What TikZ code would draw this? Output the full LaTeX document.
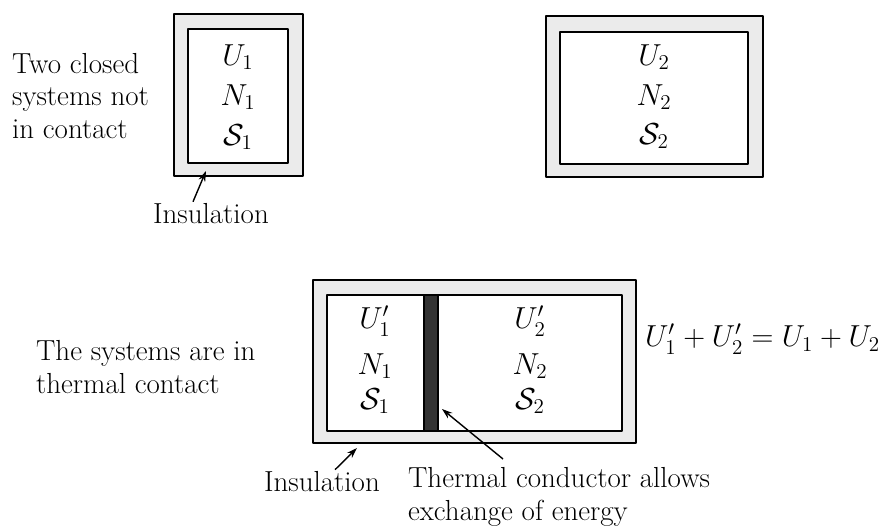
\documentclass[tikz,border=0pt]{standalone}
\usepackage{amsmath,amssymb}
\usepackage{xcolor}
\usepackage{tikz}
\usetikzlibrary{arrows.meta,calc}

\begin{document}
\begin{tikzpicture}[x=0.02cm,y=-0.02cm,>={Stealth[length=6pt,width=4pt]},line join=round,
  font=\fontsize{16.5}{18.7}\selectfont,
  wall/.style={line width=1.2pt},
  insul/.style={fill=black!8},
  cond/.style={fill=black!80,line width=1.2pt},
  lbl/.style={inner sep=1pt,align=left}]
  \useasboundingbox (0,0) rectangle (889,528);
  % two closed systems
  \fill[insul] (174,14) rectangle (303,176);
  \draw[wall] (174,14) rectangle (303,176);
  \draw[wall,fill=white] (188,29) rectangle (288,163);
  \fill[insul] (546,16) rectangle (763,177);
  \draw[wall] (546,16) rectangle (763,177);
  \draw[wall,fill=white] (560,32) rectangle (748,164);
  \node (U1) at (238,57) {$U_1$};
  \node (N1) at (238,97) {$N_1$};
  \node (S1) at (238,137) {$\mathcal{S}_1$};
  \node (U2) at (654,57) {$U_2$};
  \node (N2) at (654,97) {$N_2$};
  \node (S2) at (654,136) {$\mathcal{S}_2$};
  \node[lbl,anchor=west] (apart) at (10,96) {Two closed\\systems not\\in contact};
  \node[lbl] (insA) at (211,214) {Insulation};
  \coordinate (insAtip) at (206,171);
  \draw[->,thick] ($(insA.north)+(-18,0)$) -- (insAtip);
  % systems in thermal contact
  \fill[insul] (313,280) rectangle (636,443);
  \draw[wall] (313,280) rectangle (636,443);
  \draw[wall,fill=white] (327,295) rectangle (424,431);
  \draw[wall,fill=white] (438,295) rectangle (622,431);
  \draw[cond] (424,295) rectangle (438,431);
  \node (U1p) at (375,321) {$U_1'$};
  \node (N1p) at (375,366) {$N_1$};
  \node (S1p) at (375,401) {$\mathcal{S}_1$};
  \node (U2p) at (530,321) {$U_2'$};
  \node (N2p) at (530,366) {$N_2$};
  \node (S2p) at (530,401) {$\mathcal{S}_2$};
  \node[lbl,anchor=west] (sum) at (643,339) {$U_1' + U_2' = U_1 + U_2$};
  \node[lbl,anchor=west] (contact) at (34,367) {The systems are in\\thermal contact};
  \node[lbl] (insB) at (322,482) {Insulation};
  \coordinate (insBtip) at (357,448);
  \draw[->,thick] ($(insB.north)+(13,0)$) -- (insBtip);
  \node[lbl,anchor=north west] (condlbl) at (406,465) {Thermal conductor allows\\exchange of energy};
  \coordinate (condtip) at (442,409);
  \draw[->,thick] ($(condlbl.north west)+(97,-6)$) -- (condtip);
\end{tikzpicture}
\end{document}
